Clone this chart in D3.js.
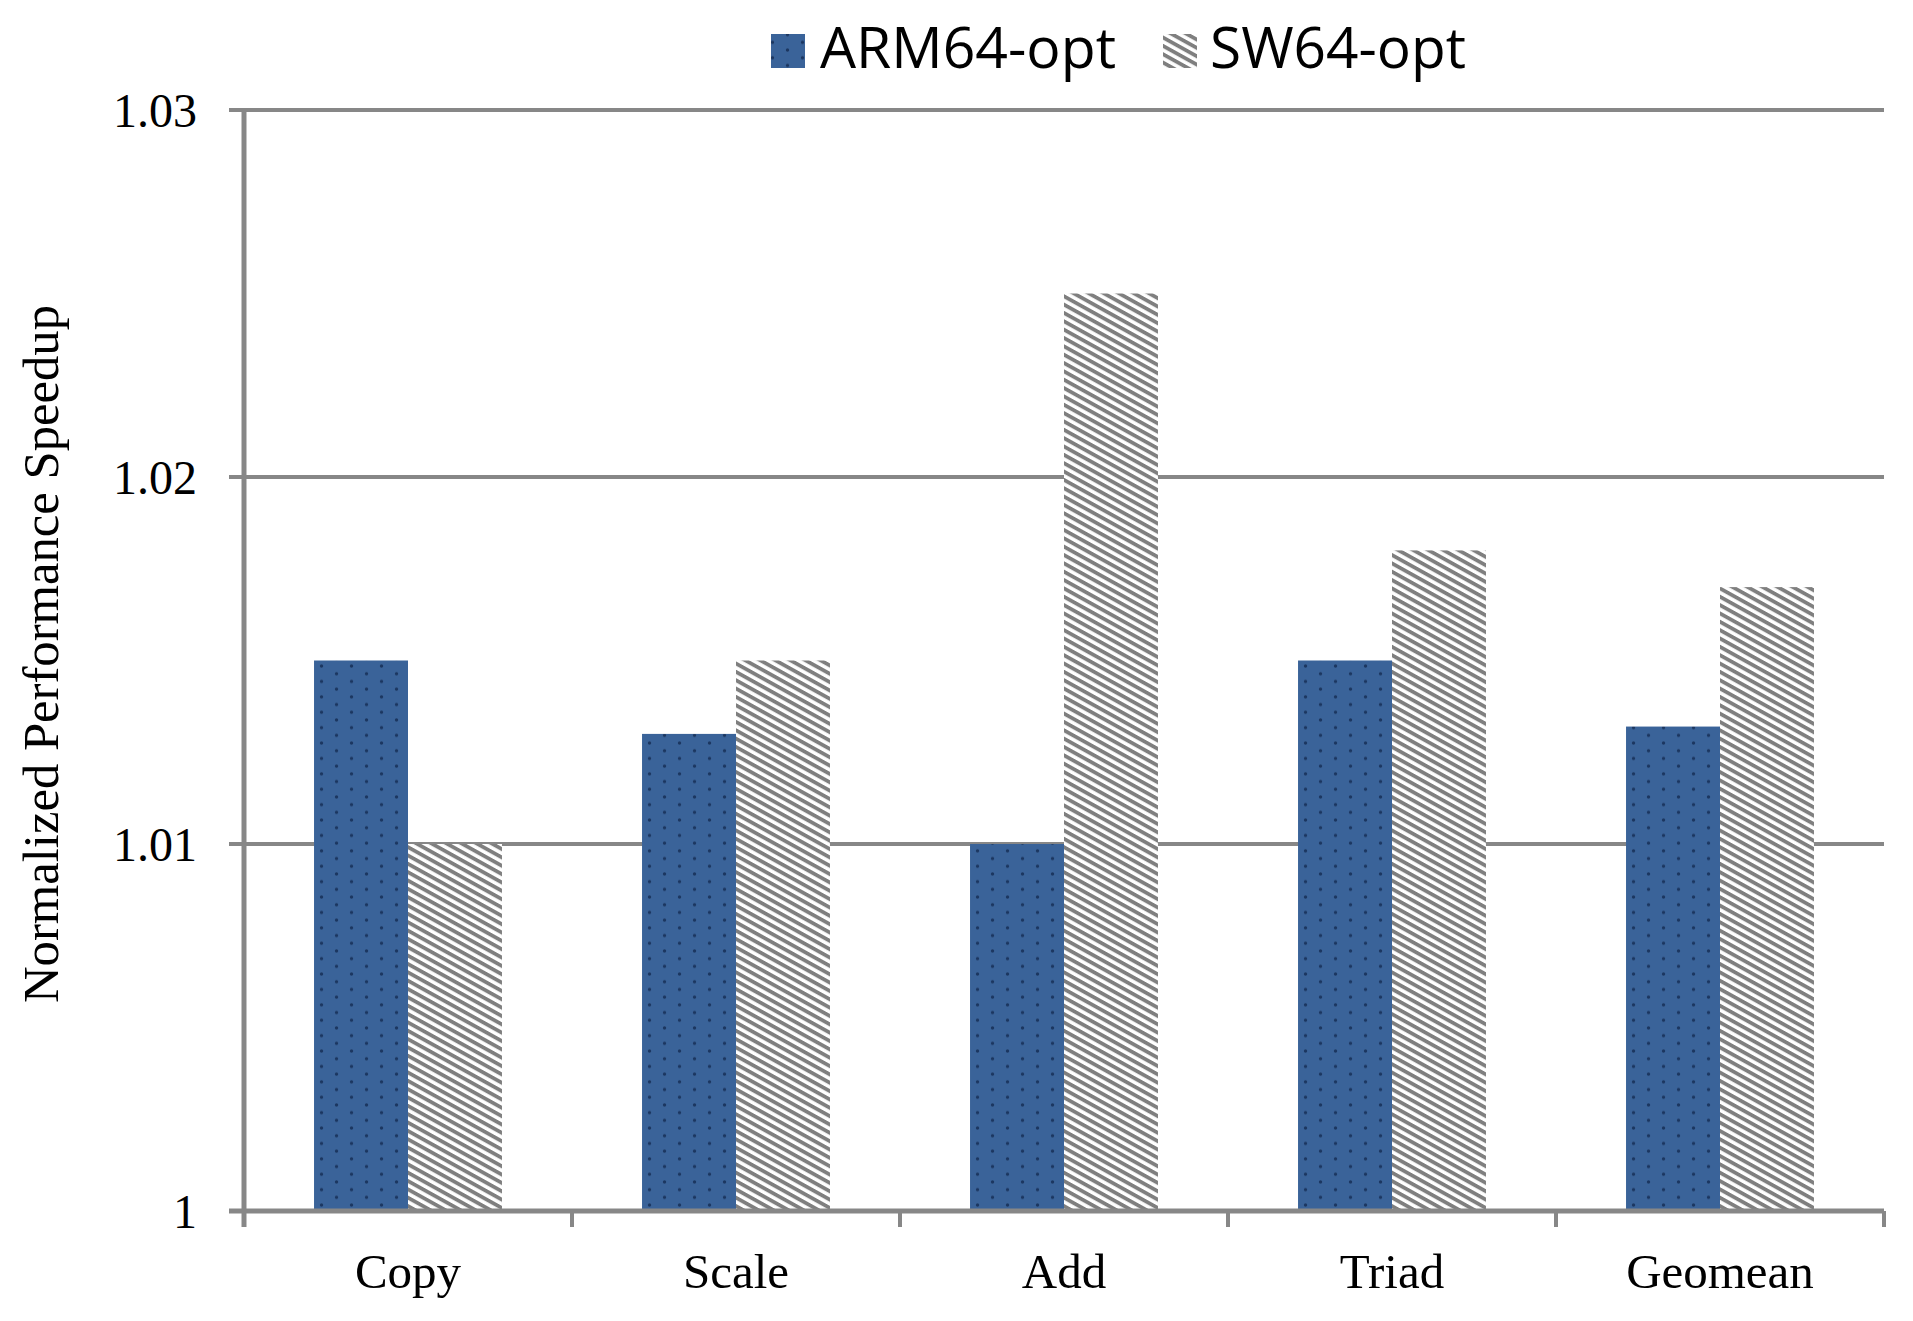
<!DOCTYPE html>
<html>
<head>
<meta charset="utf-8">
<script src="https://cdn.jsdelivr.net/npm/d3@7"></script>
<style>
html,body{margin:0;padding:0;background:#fff;}
svg{display:block;}
</style>
</head>
<body>
<svg id="chart" width="1913" height="1321"></svg>
<script>
const categories = ["Copy", "Scale", "Add", "Triad", "Geomean"];
const seriesNames = ["ARM64-opt", "SW64-opt"];
const arm64 = [1.015, 1.013, 1.010, 1.015, 1.0132];
const sw64 = [1.010, 1.015, 1.025, 1.018, 1.017];
const yTicks = [1, 1.01, 1.02, 1.03];
const yTickLabels = ["1", "1.01", "1.02", "1.03"];
const yTitle = "Normalized Performance Speedup";

const svg = d3.select("#chart");
const W = 1913, H = 1321;
const m = {left: 244, right: 29, top: 110, bottom: 110};
const x0 = d3.scaleBand().domain(categories).range([m.left, W - m.right]).paddingInner(0.427).paddingOuter(0.2135);
const x1 = d3.scaleBand().domain(seriesNames).range([0, x0.bandwidth()]).padding(0);
const y = d3.scaleLinear().domain([1, 1.03]).range([H - m.bottom, m.top]);
const gray = "#878787";

const defs = svg.append("defs");
const dots = defs.append("pattern").attr("id", "dots").attr("patternUnits", "userSpaceOnUse")
  .attr("width", 30).attr("height", 15.4);
dots.append("rect").attr("width", 30).attr("height", 15.4).attr("fill", "#3a6399");
dots.append("circle").attr("cx", 7.5).attr("cy", 3.85).attr("r", 1.7).attr("fill", "#1b3660");
dots.append("circle").attr("cx", 22.5).attr("cy", 11.55).attr("r", 1.7).attr("fill", "#1b3660");

const stripes = defs.append("pattern").attr("id", "stripes").attr("patternUnits", "userSpaceOnUse")
  .attr("width", 7.3).attr("height", 7.3).attr("patternTransform", "rotate(29)");
stripes.append("rect").attr("width", 7.3).attr("height", 7.3).attr("fill", "#ffffff");
stripes.append("rect").attr("width", 7.3).attr("height", 3.8).attr("fill", "#7f7f7f");

const fills = {"ARM64-opt": "url(#dots)", "SW64-opt": "url(#stripes)"};

// gridlines
svg.append("g").selectAll("line").data(yTicks.slice(1)).join("line")
  .attr("x1", m.left - 15).attr("x2", W - m.right)
  .attr("y1", d => y(d)).attr("y2", d => y(d))
  .attr("stroke", gray).attr("stroke-width", 4);

// bars
const data = categories.map((c, i) => ({cat: c, vals: [{s: "ARM64-opt", v: arm64[i]}, {s: "SW64-opt", v: sw64[i]}]}));
const groups = svg.append("g").selectAll("g").data(data).join("g")
  .attr("transform", d => `translate(${x0(d.cat)},0)`);
groups.selectAll("rect").data(d => d.vals).join("rect")
  .attr("x", d => x1(d.s)).attr("width", x1.bandwidth())
  .attr("y", d => y(d.v)).attr("height", d => y(1) - y(d.v))
  .attr("fill", d => fills[d.s]);

// y axis
const yAxis = d3.axisLeft(y).tickValues(yTicks).tickSize(0).tickFormat((d, i) => yTickLabels[i]);
const ya = svg.append("g").attr("transform", `translate(${m.left},0)`).call(yAxis);
ya.select(".domain").remove();
ya.selectAll("text").attr("x", -47).attr("dy", "0.34em")
  .style("font-family", "'Liberation Serif','Times New Roman',serif").style("font-size", "48px").attr("fill", "#000");
svg.append("line").attr("x1", m.left).attr("x2", m.left).attr("y1", y(1.03) - 2).attr("y2", y(1) + 16)
  .attr("stroke", gray).attr("stroke-width", 5);

// x axis
const xa = svg.append("g").attr("transform", `translate(0,${y(1)})`)
  .call(d3.axisBottom(x0).tickSize(0));
xa.select(".domain").remove();
xa.selectAll("text").attr("y", 77).attr("dy", 0)
  .style("font-family", "'Liberation Serif','Times New Roman',serif").style("font-size", "49px").attr("fill", "#000");
svg.append("line").attr("x1", m.left - 15).attr("x2", W - m.right).attr("y1", y(1)).attr("y2", y(1))
  .attr("stroke", gray).attr("stroke-width", 5);
const step = x0.step();
const bounds = d3.range(categories.length + 1).map(i => m.left + i * step);
svg.append("g").selectAll("line").data(bounds).join("line")
  .attr("x1", d => d).attr("x2", d => d).attr("y1", y(1)).attr("y2", y(1) + 16)
  .attr("stroke", gray).attr("stroke-width", 4);

// y title
svg.append("text").attr("transform", `translate(58,654) rotate(-90)`)
  .attr("text-anchor", "middle")
  .attr("textLength", 698).attr("lengthAdjust", "spacingAndGlyphs")
  .style("font-family", "'Liberation Serif','Times New Roman',serif").style("font-size", "50px")
  .text(yTitle);

// legend
const legend = [
  {name: seriesNames[0], sx: 771, tx: 820, tw: 296},
  {name: seriesNames[1], sx: 1163, tx: 1210, tw: 256}
];
const lg = svg.append("g").selectAll("g").data(legend).join("g");
lg.append("rect").attr("x", d => d.sx).attr("y", 34).attr("width", 34).attr("height", 34)
  .attr("fill", d => fills[d.name]);
lg.append("text").attr("x", d => d.tx).attr("y", 68)
  .attr("textLength", d => d.tw).attr("lengthAdjust", "spacingAndGlyphs")
  .style("font-family", "'Open Sans','Noto Sans',sans-serif").style("font-size", "57px")
  .attr("fill", "#000")
  .text(d => d.name);
</script>
</body>
</html>
